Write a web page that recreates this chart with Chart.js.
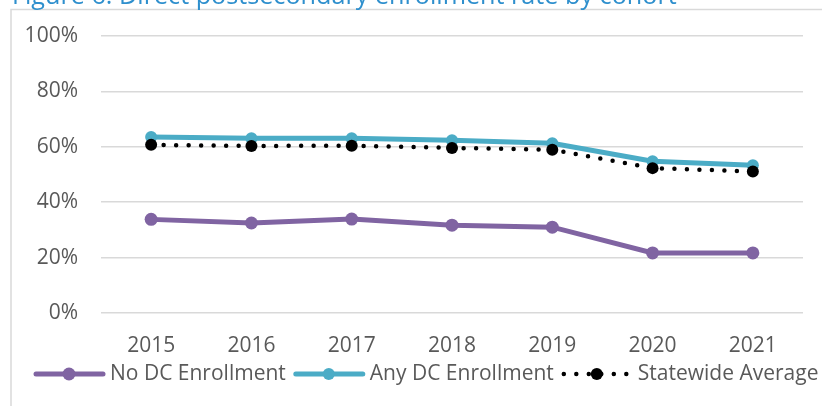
<!DOCTYPE html>
<html>
<head>
<meta charset="utf-8">
<script src="https://cdn.jsdelivr.net/npm/chart.js@4.4.0/dist/chart.umd.min.js"></script>
<style>
html, body { margin: 0; padding: 0; background: #fff; }
</style>
</head>
<body>
<canvas id="chart" width="822" height="406"></canvas>
<script>
var years = ["2015", "2016", "2017", "2018", "2019", "2020", "2021"];
var noDC = [33.8, 32.5, 33.9, 31.7, 31.0, 21.7, 21.7];
var anyDC = [63.5, 63.1, 63.1, 62.4, 61.3, 54.8, 53.3];
var statewide = [60.7, 60.3, 60.4, 59.6, 58.9, 52.3, 51.1];
var seriesNames = ["No DC Enrollment", "Any DC Enrollment", "Statewide Average"];
var titleText = "Figure 6. Direct postsecondary enrollment rate by cohort";

var textGrey = "#595959";
Chart.defaults.font.family = '"Open Sans", sans-serif';

// frame line + cut-off title at the very top
var framePlugin = {
  id: "frame",
  afterDraw: function(chart) {
    var ctx = chart.ctx;
    ctx.save();
    ctx.strokeStyle = "#d9d9d9";
    ctx.lineWidth = 1.5;
    ctx.beginPath();
    ctx.moveTo(11, 406);
    ctx.lineTo(11, 9.5);
    ctx.lineTo(822, 9.5);
    ctx.stroke();

    var size = 22;
    ctx.font = size + 'px "Open Sans"';
    var w = ctx.measureText(titleText).width;
    size = size * 665 / w;
    ctx.font = size + 'px "Open Sans"';
    ctx.fillStyle = "#2e8fcd";
    ctx.textBaseline = "alphabetic";
    ctx.fillText(titleText, 12, 4);
    ctx.restore();
  }
};

// legend with a line sample and marker in the middle, like the office chart
var legendPlugin = {
  id: "lineLegend",
  afterDraw: function(chart) {
    var ctx = chart.ctx;
    var y = 374;
    var x = 33;
    ctx.save();
    ctx.font = '21px "Open Sans"';
    ctx.textBaseline = "middle";
    chart.data.datasets.forEach(function(ds) {
      ctx.strokeStyle = ds.borderColor;
      ctx.lineWidth = ds.borderWidth;
      ctx.lineCap = "round";
      ctx.setLineDash(ds.borderDash || []);
      ctx.beginPath();
      ctx.moveTo(x + 3, y);
      ctx.lineTo(x + 70, y);
      ctx.stroke();
      ctx.setLineDash([]);
      ctx.fillStyle = ds.backgroundColor;
      ctx.beginPath();
      ctx.arc(x + 36, y, ds.pointRadius, 0, Math.PI * 2);
      ctx.fill();
      ctx.fillStyle = textGrey;
      ctx.fillText(ds.label, x + 77, y);
      x += 77 + ctx.measureText(ds.label).width + 7;
    });
    ctx.restore();
  }
};

new Chart(document.getElementById("chart"), {
  type: "line",
  data: {
    labels: years,
    datasets: [
      {
        label: seriesNames[0],
        data: noDC,
        borderColor: "#8064a2",
        backgroundColor: "#8064a2",
        borderWidth: 5,
        pointRadius: 6.5,
        pointBorderWidth: 0,
        order: 2
      },
      {
        label: seriesNames[1],
        data: anyDC,
        borderColor: "#4bacc6",
        backgroundColor: "#4bacc6",
        borderWidth: 5,
        pointRadius: 6,
        pointBorderWidth: 0,
        order: 1
      },
      {
        label: seriesNames[2],
        data: statewide,
        borderColor: "#000000",
        backgroundColor: "#000000",
        borderWidth: 4.5,
        borderDash: [0, 12.5],
        borderCapStyle: "round",
        pointRadius: 6,
        pointBorderWidth: 0,
        order: 0
      }
    ]
  },
  options: {
    responsive: false,
    animation: false,
    devicePixelRatio: 1,
    layout: { padding: { top: 36, right: 19, bottom: 30, left: 0 } },
    plugins: {
      legend: { display: false },
      tooltip: { enabled: false }
    },
    scales: {
      x: {
        offset: true,
        grid: { display: false },
        border: { display: false },
        ticks: { color: textGrey, font: { size: 21 }, padding: 12 },
        afterFit: function(s) { s.height = 63; }
      },
      y: {
        min: 0,
        max: 100,
        grid: { color: "#d9d9d9", lineWidth: 1.5, drawTicks: false },
        border: { display: false },
        ticks: {
          stepSize: 20,
          color: textGrey,
          font: { size: 21 },
          padding: 23,
          callback: function(v) { return v + "%"; }
        },
        afterFit: function(s) { s.width = 101; }
      }
    }
  },
  plugins: [framePlugin, legendPlugin]
});
</script>
</body>
</html>
